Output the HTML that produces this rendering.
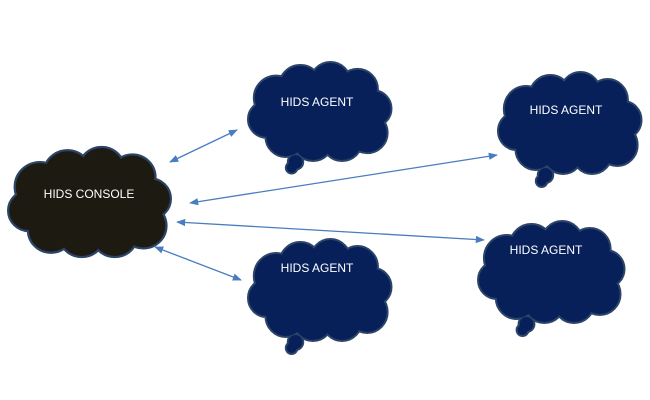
<!DOCTYPE html>
<html><head><style>body{margin:0;background:#fff}svg{display:block}</style></head><body>
<svg width="650" height="400" viewBox="0 0 650 400" xmlns="http://www.w3.org/2000/svg">
<defs>
<g id="c">
<circle cx="30" cy="36" r="22"/><circle cx="55" cy="24" r="21"/><circle cx="86" cy="20" r="20"/>
<circle cx="114" cy="27" r="20"/><circle cx="130" cy="47" r="18"/><circle cx="124" cy="72" r="20"/>
<circle cx="98" cy="80" r="20"/><circle cx="68" cy="80" r="20"/><circle cx="40" cy="76" r="20"/>
<circle cx="20" cy="58" r="18"/><circle cx="75" cy="50" r="36"/><rect x="30" y="30" width="100" height="55"/>
</g>
<g id="t"><circle cx="50" cy="102" r="7"/><circle cx="46" cy="108" r="5"/></g>
<marker id="a" viewBox="0 0 10 10" refX="9" refY="5" markerWidth="7" markerHeight="7" orient="auto-start-reverse"><path d="M0,1L10,5L0,9z" fill="#4a7cc0"/></marker>
</defs>
<g stroke="#2c4468" stroke-width="4">
<use href="#c" transform="translate(7,148) scale(1.1,1.08)" fill="#1d1a12"/>
<use href="#c" transform="translate(247,63) scale(0.97,0.97)"/>
<use href="#t" transform="translate(247,63) scale(0.97,0.97)"/>
<use href="#c" transform="translate(497,73) scale(0.97,1)"/>
<use href="#t" transform="translate(497,73) scale(0.97,1)"/>
<use href="#c" transform="translate(477,222) scale(0.99,1)"/>
<use href="#t" transform="translate(477,222) scale(0.99,1)"/>
<use href="#c" transform="translate(247,240) scale(0.97,1)"/>
<use href="#t" transform="translate(247,240) scale(0.97,1)"/>
</g>
<g fill="#08205a">
<use href="#c" transform="translate(7,148) scale(1.1,1.08)" fill="#1d1a12"/>
<use href="#c" transform="translate(247,63) scale(0.97,0.97)"/>
<use href="#t" transform="translate(247,63) scale(0.97,0.97)"/>
<use href="#c" transform="translate(497,73) scale(0.97,1)"/>
<use href="#t" transform="translate(497,73) scale(0.97,1)"/>
<use href="#c" transform="translate(477,222) scale(0.99,1)"/>
<use href="#t" transform="translate(477,222) scale(0.99,1)"/>
<use href="#c" transform="translate(247,240) scale(0.97,1)"/>
<use href="#t" transform="translate(247,240) scale(0.97,1)"/>
</g>
<g stroke="#4a7cc0" stroke-width="1.3" marker-start="url(#a)" marker-end="url(#a)">
<line x1="170" y1="162" x2="237" y2="130"/>
<line x1="190" y1="203" x2="497" y2="155"/>
<line x1="177" y1="222" x2="484" y2="240"/>
<line x1="155" y1="247" x2="241" y2="280"/>
</g>
<g fill="#fff" font-family="Liberation Sans, sans-serif" font-size="12" text-anchor="middle">
<text x="89" y="198">HIDS CONSOLE</text>
<text x="317" y="106">HIDS AGENT</text>
<text x="566" y="114">HIDS AGENT</text>
<text x="546" y="254">HIDS AGENT</text>
<text x="317" y="272">HIDS AGENT</text>
</g>
</svg>
</body></html>
